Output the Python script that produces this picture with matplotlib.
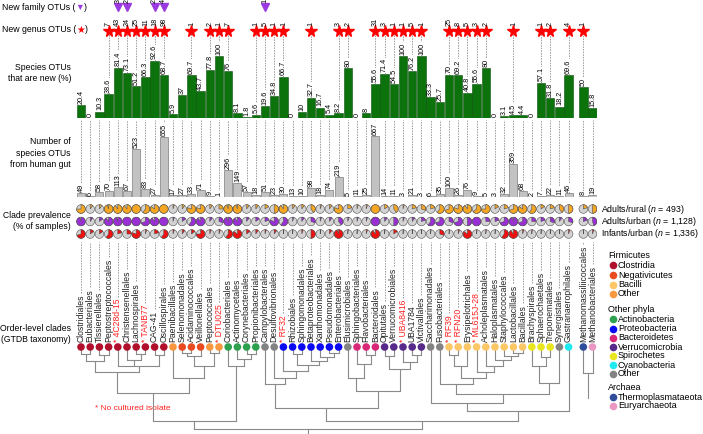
import numpy as np
import matplotlib
matplotlib.use("Agg")
import matplotlib.pyplot as plt
from matplotlib.patches import Wedge, Circle

plt.rcParams['font.family'] = ['Liberation Sans', 'DejaVu Sans']
plt.rcParams['mathtext.fontset'] = 'custom'
plt.rcParams['mathtext.it'] = 'Liberation Sans:italic'
plt.rcParams['mathtext.rm'] = 'Liberation Sans'

# ---- data -------------------------------------------------------------
clades = ["Clostridiales", "Eubacteriales", "Tissierellales", "Peptostreptococcales",
          "4C28d-15", "Christensenellales", "Lachnospirales", "TANB77", "CAG-41",
          "Oscillospirales", "Paenibacillales", "Selenomonadales", "Acidaminococcales",
          "Veillonellales", "Peptococcales", "DTU025", "Coriobacteriales",
          "Actinomycetales", "Corynebacteriales", "Propionibacteriales",
          "Campylobacterales", "Desulfovibrionales", "RF32", "Rhizobiales",
          "Sphingomonadales", "Betaproteobacteriales", "Xanthomonadales",
          "Pseudomonadales", "Enterobacteriales", "Elusimicrobiales",
          "Sphingobacteriales", "Flavobacteriales", "Bacteroidales", "Opitutales",
          "Verrucomicrobiales", "UBA8416", "UBA1784", "Victivallales",
          "Saccharimonadales", "Fusobacteriales", "RF39", "RFN20",
          "Erysipelotrichales", "ML615J-28", "Acholeplasmatales", "Haloplasmatales",
          "Staphylococcales", "Lactobacillales", "Bacillales", "Brachyspirales",
          "Sphaerochaetales", "Treponematales", "Synergistales",
          "Gastranaerophilales", "Methanomassiliicoccales", "Methanobacteriales"]
no_isolate = ["4C28d-15", "TANB77", "DTU025", "RF32", "UBA8416", "RF39", "RFN20",
              "ML615J-28"]
groups = ["Clostridia"] * 10 + ["Firm_other", "Negativicutes", "Negativicutes",
          "Negativicutes", "Firm_other", "Firm_other"] + ["Actinobacteria"] * 4 + \
         ["Other", "Other"] + ["Proteobacteria"] * 7 + ["Other"] + \
         ["Bacteroidetes"] * 3 + ["Verrucomicrobia"] * 5 + ["Other", "Other"] + \
         ["Bacilli"] * 9 + ["Spirochetes"] * 3 + ["Other", "Cyanobacteria",
          "Thermoplasmataeota", "Euryarchaeota"]

pct_new = [20.4, 0, 10.3, 38.6, 81.4, 73.1, 51.2, 66.3, 92.6, 68.7, 5.9, 37, 69.7,
           43.7, 77.8, 100, 76, 8.1, 1.8, 5.6, 19.6, 34.8, 66.7, 0, 10, 32.7, 16.7,
           5.4, 8.2, 80, 0, 8, 55.6, 71.4, 54.5, 100, 76.2, 100, 33.3, 25.7, 70,
           69.2, 40.8, 55.6, 80, 0, 3.1, 4.5, 4.4, 0, 57.1, 31.8, 18.2, 69.6, 50, 15.8]
n_species = [49, 6, 58, 70, 113, 67, 523, 83, 27, 655, 17, 27, 33, 71, 9, 1, 296,
             149, 57, 18, 51, 23, 30, 13, 10, 98, 18, 74, 219, 5, 11, 25, 667, 14, 11,
             3, 21, 3, 6, 35, 100, 26, 76, 9, 5, 3, 32, 359, 68, 2, 7, 22, 11, 46, 8, 19]

# new genus / new family counts: (clade index, count)
genus_idx = [3, 4, 5, 6, 7, 8, 9, 12, 14, 15, 16, 19, 20, 21, 22, 25, 28, 29, 32, 33,
             34, 35, 36, 37, 40, 41, 42, 43, 44, 47, 50, 51, 53, 54]
genus_n = [7, 43, 24, 25, 11, 18, 98, 1, 2, 1, 7, 1, 5, 1, 1, 1, 3, 2, 31, 3, 1, 1, 5,
           1, 25, 8, 5, 3, 2, 1, 1, 2, 4, 1]
family_idx = [4, 5, 8, 9, 20]
family_n = [3, 2, 2, 4, 1]

# clade prevalence (fraction of samples)
rural = [0.75, 0.1, 0.1, 0.95, 0.9, 0.9, 1.0, 0.6, 0.85, 1.0, 0.05, 0.1, 0.8, 0.8,
         0.1, 0.25, 0.95, 0.95, 0.1, 0.1, 0.15, 0.5, 0.9, 0.1, 0.1, 0.4, 0.05, 0.1,
         0.8, 0.2, 0.05, 0.05, 1.0, 0.15, 0.4, 0.05, 0.2, 0.3, 0.2, 0.6, 0.7, 0.8,
         0.9, 0.65, 0.75, 0.15, 0.2, 0.7, 0.85, 0.6, 0.15, 0.2, 0.4, 0.5, 0.2, 0.5]
urban = [0.95, 0.1, 0.15, 0.9, 0.95, 1.0, 1.0, 0.7, 0.9, 1.0, 0.05, 0.15, 0.6, 0.9,
         0.1, 0.3, 0.95, 0.9, 0.1, 0.15, 0.2, 0.8, 0.6, 0.05, 0.1, 0.3, 0.05, 0.1,
         0.4, 0.05, 0.05, 0.05, 1.0, 0.1, 0.5, 0.05, 0.1, 0.2, 0.6, 0.7, 0.3, 0.7,
         0.5, 1.0, 0.25, 0.2, 0.7, 0.95, 0.7, 0.25, 0.2, 0.3, 0.1, 0.3, 0.2, 0.45]
infant = [0.7, 0.15, 0.15, 0.6, 0.2, 0.25, 0.8, 0.05, 0.2, 0.6, 0.05, 0.1, 0.15,
          0.75, 0.05, 0.05, 0.6, 0.85, 0.15, 0.1, 0.05, 0.1, 0.02, 0.02, 0.05, 0.5,
          0.02, 0.1, 0.95, 0.02, 0.02, 0.05, 0.9, 0.02, 0.15, 0.02, 0.02, 0.02, 0.02,
          0.3, 0.02, 0.05, 0.85, 0.02, 0.02, 0.02, 0.6, 0.9, 0.05, 0.02, 0.02, 0.02,
          0.02, 0.05, 0.02, 0.05]

group_colors = {"Clostridia": "#b0102c", "Negativicutes": "#ea4a1f",
                "Bacilli": "#fcc767", "Firm_other": "#f8973e",
                "Actinobacteria": "#2ea14e", "Proteobacteria": "#0a0af5",
                "Bacteroidetes": "#d9277a", "Verrucomicrobia": "#572a8c",
                "Spirochetes": "#e9e51e", "Cyanobacteria": "#1fe9f1",
                "Other": "#838383", "Thermoplasmataeota": "#2f4d9a",
                "Euryarchaeota": "#ea98c3"}

# tree: [depth below leaf dots (px), children...]; leaves are clade indices
clost = [25, [14, [7, 0, 1], [8, 2, 3]], [19, 4, [13, 5, [7, 6, 7]], [8, 8, 9]]]
firm = [46, clost, [31, 10, [19, [9, [6, 11, 12], 13], [6, 14, 15]]]]
actino = [19, 16, [12, 17, [7, 18, 19]]]
proteo = [24, 22, [18, [7, 23, 24], [14, 25, [10, 26, [6, 27, 28]]]]]
grac = [61, [37, 20, [31, 21, proteo]],
        [44, [31, 29, [17, 30, [8, 31, 32]]], [22, [9, 33, 34], [15, 35, [8, 36, 37]]]]]
bacilli = [31, [19, [8, 40, 41], 42], [25, 43, [19, 44, [13, 45, [9, 46, [6, 47, 48]]]]]]
rest = [64, [56, 38, [47, [37, 39, bacilli], [36, [19, 49, [10, 50, 51]], 52]]], 53]
tree = [82, [74, firm, actino], [74, grac, rest]]
archaea = [26, 54, 55]

# ---- layout ------------------------------------------------------------
W, H = 703, 434
fig = plt.figure(figsize=(W / 100, H / 100), dpi=100)

pos = np.arange(len(clades), dtype=float)
pos[54:] += 0.6
x0, dx = 81.0, 9.2                      # pixel centre of first column, column pitch
xlo, xhi = -0.5, 56.1
L = (x0 + dx * xlo) / W
Wd = dx * (xhi - xlo) / W


def band(top, bottom):
    return fig.add_axes([L, 1 - bottom / H, Wd, (bottom - top) / H])


dash = (0, (2.2, 1.6))
lab_kw = dict(rotation=90, ha='center', va='bottom', fontsize=5.2,
              bbox=dict(fc='white', ec='none', pad=0.3))

# green bars: % new species
ax1 = band(0, 118)
ax1.set_xlim(xlo, xhi)
ax1.set_ylim(0, 118 / 0.62)
ax1.bar(pos, pct_new, width=0.92, color='#0c730c', edgecolor='#0a4f0a', lw=0.4)
for p, v in zip(pos, pct_new):
    ax1.text(p, v + 2, f"{v:g}", zorder=3, **lab_kw)
star_y, tri_y = 141, 178.5
for i, n in zip(genus_idx, genus_n):
    ax1.vlines(pos[i], pct_new[i], star_y, colors='#777777', lw=0.5, linestyles=dash,
               zorder=1)
    ax1.plot(pos[i], star_y, marker='*', ms=8.5, color='#ff0000', mec='#ff0000',
             clip_on=False)
    ax1.text(pos[i], star_y + 7.5, str(n), rotation=90, ha='center', va='bottom',
             fontsize=5.2, clip_on=False)
for i, n in zip(family_idx, family_n):
    ax1.plot(pos[i], tri_y, marker='v', ms=5.5, color='#9b3ae0', mec='#9b3ae0',
             clip_on=False)
    ax1.text(pos[i], tri_y + 6.5, str(n), rotation=90, ha='center', va='bottom',
             fontsize=5.2, clip_on=False)
ax1.axis('off')

# grey bars: number of species OTUs
ax2 = band(118, 197)
ax2.set_xlim(xlo, xhi)
ax2.set_ylim(0, 79 / 0.0917)
ax2.bar(pos, n_species, width=0.88, color='#c2c2c2', edgecolor='#7d7d7d', lw=0.5)
ax2.vlines(pos, n_species, 79 / 0.0917 - 20, colors='#777777', lw=0.5,
           linestyles=dash, zorder=1)
for p, v in zip(pos, n_species):
    ax2.text(p, v + 10, str(v), zorder=3, **lab_kw)
ax2.axis('off')

# pie rows: clade prevalence
ax3 = band(200, 242)
ax3.set_xlim(xlo, xhi)
row_gap = 12.5 / dx
ax3.set_ylim(-2 * row_gap - 8 / dx, 9 / dx)
for r, (vals, col) in enumerate(zip([rural, urban, infant],
                                    ['#f5a623', '#9a2fd6', '#f01010'])):
    yy = -r * row_gap
    for p, f in zip(pos, vals):
        ax3.add_patch(Circle((p, yy), 0.47, fc='#d3d3d3', ec='#505050', lw=0.4))
        ax3.add_patch(Wedge((p, yy), 0.47, 90 - 360 * f, 90, fc=col, ec='#505050',
                            lw=0.4))
ax3.axis('off')

# clade labels, leaf dots and tree (y = pixels below the dot row)
ax4 = band(242, 434)
ax4.set_xlim(xlo, xhi)
ax4.set_ylim(87, -105)
name_texts = []
for p, name in zip(pos, clades):
    red = name in no_isolate
    name_texts.append(ax4.text(p, -5, ("* " if red else "") + name, rotation=90,
                               ha='center', va='bottom', fontsize=6.2,
                               color='#ff2020' if red else '#222222'))
ax4.scatter(pos, np.zeros(len(pos)), s=30, c=[group_colors[g] for g in groups],
            zorder=4, lw=0)

# dashed leaders from the top of each clade name up to the pie rows
fig.canvas.draw()
rend = fig.canvas.get_renderer()
inv = ax4.transData.inverted()
for p, t in zip(pos, name_texts):
    bb = t.get_window_extent(rend)
    top = inv.transform((0, bb.y1))[1]
    ax4.vlines(p, top - 2, -105, colors='#777777', lw=0.5, linestyles=dash)


def draw(node, col):
    if isinstance(node, int):
        return pos[node], 0
    depth, kids = node[0], node[1:]
    pts = [draw(k, col) for k in kids]
    for x, y in pts:
        ax4.plot([x, x], [y, depth], color=col, lw=0.8, solid_capstyle='butt')
    xs = [x for x, _ in pts]
    ax4.plot([min(xs), max(xs)], [depth, depth], color=col, lw=0.8)
    return (min(xs) + max(xs)) / 2, depth


rx, ry = draw(tree, '#8a8a8a')
ax4.plot([rx, rx], [ry, 87], color='#8a8a8a', lw=0.8)
ax_, ay_ = draw(archaea, '#8a8a8a')
ax4.plot([ax_, ax_], [ay_, 51], color='#8a8a8a', lw=0.8)
ax4.axis('off')

# free text and legends in pixel coordinates
lx = fig.add_axes([0, 0, 1, 1], zorder=-1)
lx.set_xlim(0, W)
lx.set_ylim(H, 0)
lx.axis('off')

t = lx.text(2, 7, "New family OTUs (", fontsize=6.3, va='center')
t = lx.annotate("\u25BC", xy=(1, 0.5), xycoords=t, va='center', fontsize=6.3,
                color='#9b3ae0')
lx.annotate(")", xy=(1, 0.5), xycoords=t, va='center', fontsize=6.3)
t = lx.text(2, 30, "New genus OTUs (", fontsize=6.3, va='center')
t = lx.annotate("\u2605", xy=(1, 0.5), xycoords=t, va='center', fontsize=7,
                color='#ff0000')
lx.annotate(")", xy=(1, 0.5), xycoords=t, va='center', fontsize=6.3)

side_kw = dict(fontsize=6.2, ha='right', va='center', linespacing=1.3)
lx.text(71, 73, "Species OTUs\nthat are new (%)", **side_kw)
lx.text(71, 153, "Number of\nspecies OTUs\nfrom human gut", **side_kw)
lx.text(71, 221, "Clade prevalence\n(% of samples)", **side_kw)
lx.text(71, 334, "Order-level clades\n(GTDB taxonomy)", **side_kw)
lx.text(95, 408, "* No cultured isolate", fontsize=6, color='#ff2020', va='center')

for y, s in zip([209, 221.5, 234],
                ["Adults/rural ($n$ = 493)", "Adults/urban ($n$ = 1,128)",
                 "Infants/urban ($n$ = 1,336)"]):
    lx.text(601, y, s, fontsize=6.3, va='center')

legend_rows = [("Firmicutes", None, 255), ("Clostridia", "Clostridia", 265),
               ("Negativicutes", "Negativicutes", 275), ("Bacilli", "Bacilli", 284.5),
               ("Other", "Firm_other", 294), ("Other phyla", None, 309),
               ("Actinobacteria", "Actinobacteria", 319),
               ("Proteobacteria", "Proteobacteria", 328.5),
               ("Bacteroidetes", "Bacteroidetes", 337.5),
               ("Verrucomicrobia", "Verrucomicrobia", 347),
               ("Spirochetes", "Spirochetes", 356), ("Cyanobacteria", "Cyanobacteria", 365),
               ("Other", "Other", 374), ("Archaea", None, 387),
               ("Thermoplasmataeota", "Thermoplasmataeota", 397),
               ("Euryarchaeota", "Euryarchaeota", 406)]
for label, g, y in legend_rows:
    if g is None:
        lx.text(608, y, label, fontsize=6.5, va='center')
    else:
        lx.scatter([612.5], [y], s=30, color=group_colors[g], lw=0)
        lx.text(618, y, label, fontsize=6.5, va='center')

fig.savefig("out.png", dpi=100)
